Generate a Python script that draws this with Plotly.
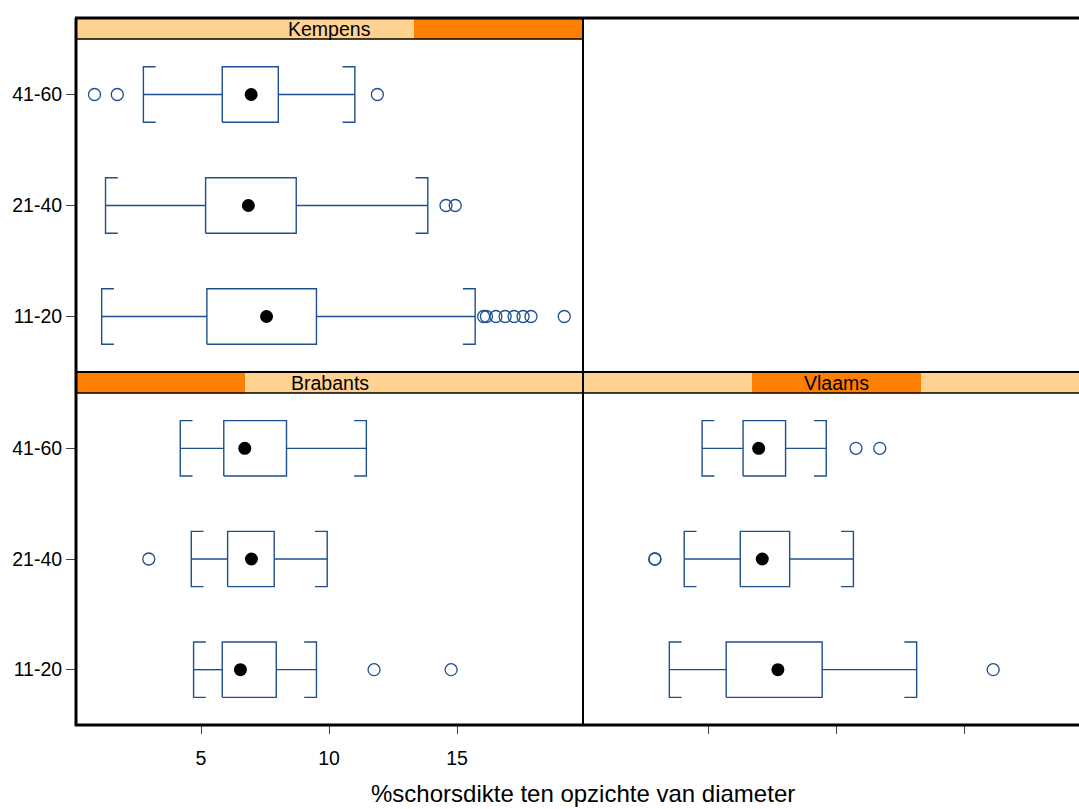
import plotly.graph_objects as go

# ---- data -------------------------------------------------------------
age_classes = ["11-20", "21-40", "41-60"]
regions = ["Kempens", "Brabants", "Vlaams"]

# per region, per age class (in age_classes order)
whisker_low = {
    "Kempens": [1.12, 1.27, 2.75],
    "Brabants": [4.71, 4.62, 4.19],
    "Vlaams": [3.49, 4.07, 4.77],
}
quart_1 = {
    "Kempens": [5.23, 5.18, 5.83],
    "Brabants": [5.83, 6.04, 5.89],
    "Vlaams": [5.71, 6.26, 6.37],
}
median = {
    "Kempens": [7.56, 6.85, 6.96],
    "Brabants": [6.54, 6.97, 6.71],
    "Vlaams": [7.73, 7.12, 6.98],
}
quart_3 = {
    "Kempens": [9.51, 8.72, 8.02],
    "Brabants": [7.94, 7.86, 8.34],
    "Vlaams": [9.46, 8.19, 8.03],
}
whisker_high = {
    "Kempens": [15.71, 13.86, 11.01],
    "Brabants": [9.51, 9.93, 11.46],
    "Vlaams": [13.15, 10.68, 9.62],
}
outliers = {
    "Kempens": [
        [16.04, 16.15, 16.52, 16.88, 17.23, 17.58, 17.89, 19.19],
        [14.57, 14.93],
        [0.84, 1.73, 11.89],
    ],
    "Brabants": [
        [11.76, 14.77],
        [2.96],
        [],
    ],
    "Vlaams": [
        [16.14],
        [2.92, 2.93],
        [10.78, 11.71],
    ],
}
x_ticks = [5, 10, 15]

# ---- geometry helpers (pixel -> paper) ----------------------------------
W, H = 1079, 809


def px(v):
    return v / W


def py(v):
    return 1 - v / H


X_MIN, X_MAX = 0.1172, 19.922
PX_PER_UNIT = 25.6
LEFT0, MID, RIGHT_END = 76, 583, 1090  # right panel runs past the page edge
TOP, STRIP1_B, ROWSPLIT, STRIP2_B, BOTTOM = 18, 39, 372, 393, 725

BOX_COL = "#1f4f8f"
HALF_H = 0.25
CAP = 0.48

panel_axes = {
    "Kempens": ("x", "y"),
    "Brabants": ("x2", "y2"),
    "Vlaams": ("x3", "y3"),
}

fig = go.Figure()

for reg in regions:
    xa, ya = panel_axes[reg]
    bx, by = [], []
    mx, my = [], []
    ox, oy = [], []
    for i, age in enumerate(age_classes):
        yc = i + 1
        lo, q1, md, q3, hi = (whisker_low[reg][i], quart_1[reg][i], median[reg][i],
                              quart_3[reg][i], whisker_high[reg][i])
        # box
        bx += [q1, q3, q3, q1, q1, None]
        by += [yc - HALF_H, yc - HALF_H, yc + HALF_H, yc + HALF_H, yc - HALF_H, None]
        # whiskers
        bx += [lo, q1, None, q3, hi, None]
        by += [yc, yc, None, yc, yc, None]
        # bracket caps
        bx += [lo + CAP, lo, lo, lo + CAP, None]
        by += [yc - HALF_H, yc - HALF_H, yc + HALF_H, yc + HALF_H, None]
        bx += [hi - CAP, hi, hi, hi - CAP, None]
        by += [yc - HALF_H, yc - HALF_H, yc + HALF_H, yc + HALF_H, None]
        mx.append(md)
        my.append(yc)
        for o in outliers[reg][i]:
            ox.append(o)
            oy.append(yc)
    fig.add_trace(go.Scatter(x=bx, y=by, mode="lines", xaxis=xa, yaxis=ya,
                             line=dict(color=BOX_COL, width=1.4),
                             showlegend=False, hoverinfo="skip"))
    fig.add_trace(go.Scatter(x=ox, y=oy, mode="markers", xaxis=xa, yaxis=ya,
                             marker=dict(symbol="circle-open", size=12,
                                         color=BOX_COL, line=dict(width=1.3)),
                             showlegend=False))
    fig.add_trace(go.Scatter(x=mx, y=my, mode="markers", xaxis=xa, yaxis=ya,
                             marker=dict(symbol="circle", size=13, color="black"),
                             showlegend=False))

FONT = "Liberation Sans, Arial, sans-serif"
TICKFONT = dict(family=FONT, size=19.5, color="black")

common_x = dict(range=[X_MIN, X_MAX], showgrid=False, zeroline=False,
                showline=False, fixedrange=True)
common_y = dict(range=[0.5, 3.5], showgrid=False, zeroline=False,
                showline=False, fixedrange=True)

right_max = X_MIN + (W - MID) / PX_PER_UNIT

fig.update_layout(
    width=W, height=H,
    margin=dict(l=0, r=0, t=0, b=0),
    paper_bgcolor="white", plot_bgcolor="white",
    font=dict(family=FONT, color="black"),
    xaxis=dict(common_x, domain=[px(LEFT0), px(MID)], anchor="y",
               showticklabels=False, ticks=""),
    yaxis=dict(common_y, domain=[py(ROWSPLIT), py(STRIP1_B)], anchor="x",
               tickvals=[1, 2, 3], ticktext=age_classes, ticks="outside",
               ticklen=9, tickcolor="#444", tickfont=TICKFONT),
    xaxis2=dict(common_x, domain=[px(LEFT0), px(MID)], anchor="y2",
                tickvals=x_ticks, ticktext=[str(t) for t in x_ticks],
                ticks="outside", ticklen=8, tickcolor="#444", tickfont=TICKFONT,
                ticklabelstandoff=8),
    yaxis2=dict(common_y, domain=[py(BOTTOM), py(STRIP2_B)], anchor="x2",
                tickvals=[1, 2, 3], ticktext=age_classes, ticks="outside",
                ticklen=9, tickcolor="#444", tickfont=TICKFONT),
    xaxis3=dict(common_x, domain=[px(MID), 1.0], anchor="y3",
                tickvals=x_ticks, showticklabels=False,
                ticks="outside", ticklen=8, tickcolor="#444"),
    yaxis3=dict(common_y, domain=[py(BOTTOM), py(STRIP2_B)], anchor="x3",
                showticklabels=False, ticks=""),
    xaxis4=dict(common_x, overlaying="x", side="top", anchor="free",
                position=py(TOP), tickvals=x_ticks, showticklabels=False,
                ticks="outside", ticklen=8, tickcolor="#444"),
)
fig.update_layout(xaxis3_range=[X_MIN, right_max])

# ---- strips -----------------------------------------------------------
LIGHT = "#ffd291"
DARK = "#ff8000"
third = (MID - LEFT0) / 3
strips = [
    # (x0, x1, y0, y1, active level, label)
    (LEFT0, MID, TOP, STRIP1_B, 2, "Kempens"),
    (LEFT0, MID, ROWSPLIT, STRIP2_B, 0, "Brabants"),
    (MID, RIGHT_END, ROWSPLIT, STRIP2_B, 1, "Vlaams"),
]
shapes = []
annotations = []
for x0, x1, y0, y1, lvl, label in strips:
    xe = min(x1, W)
    shapes.append(dict(type="rect", xref="paper", yref="paper",
                       x0=px(x0), x1=px(xe), y0=py(y1), y1=py(y0),
                       fillcolor=LIGHT, line=dict(width=0), layer="below"))
    d0, d1 = x0 + lvl * third, x0 + (lvl + 1) * third
    shapes.append(dict(type="rect", xref="paper", yref="paper",
                       x0=px(d0), x1=px(min(d1, W)), y0=py(y1), y1=py(y0),
                       fillcolor=DARK, line=dict(width=0), layer="below"))
    annotations.append(dict(text=label, xref="paper", yref="paper",
                            x=px((x0 + x1) / 2), y=py((y0 + y1) / 2 + 0.5),
                            xanchor="center", yanchor="middle", showarrow=False,
                            font=dict(family=FONT, size=19.5, color="black")))


def hline(y, x0, x1, w):
    shapes.append(dict(type="line", xref="paper", yref="paper",
                       x0=px(x0), x1=px(x1), y0=py(y), y1=py(y),
                       line=dict(color="black", width=w)))


def vline(x, y0, y1, w):
    shapes.append(dict(type="line", xref="paper", yref="paper",
                       x0=px(x), x1=px(x), y0=py(y0), y1=py(y1),
                       line=dict(color="black", width=w)))


# panel frames
hline(TOP, LEFT0 - 1, W, 3)
hline(BOTTOM, LEFT0 - 1, W, 3)
vline(LEFT0, TOP, BOTTOM + 1, 3)
vline(MID, TOP, BOTTOM, 2)
hline(ROWSPLIT, LEFT0, W, 2)
hline(STRIP1_B, LEFT0, MID, 1.5)
hline(STRIP2_B, LEFT0, W, 1.5)

annotations.append(dict(text="%schorsdikte ten opzichte van diameter",
                        xref="paper", yref="paper", x=px(583), y=0,
                        xanchor="center", yanchor="bottom", showarrow=False,
                        font=dict(family=FONT, size=24, color="black")))

fig.update_layout(shapes=shapes, annotations=annotations)

fig.write_html("out.html")
